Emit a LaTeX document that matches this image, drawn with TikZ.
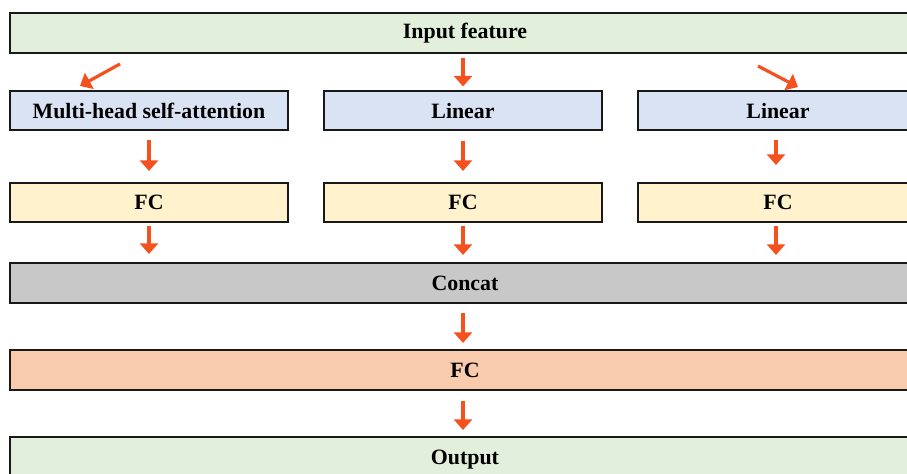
\documentclass[tikz,border=0pt]{standalone}
\usepackage{fontspec}
\setmainfont{Liberation Serif}
\usetikzlibrary{arrows.meta}
\definecolor{boxgreen}{HTML}{E2EFDA}
\definecolor{boxblue}{HTML}{DAE3F3}
\definecolor{boxyellow}{HTML}{FFF2CC}
\definecolor{boxgray}{HTML}{C8C8C8}
\definecolor{boxpink}{HTML}{F8CBAD}
\definecolor{arrowred}{HTML}{F4511E}
\tikzset{
  blk/.style={draw=black!90, line width=1.5pt, inner sep=0pt,
    font=\fontsize{16.4}{19}\selectfont\bfseries, text=black},
  wide/.style={blk, minimum width=910*0.75pt, minimum height=40*0.75pt},
  half/.style={blk, minimum width=278*0.75pt, minimum height=39*0.75pt},
  arr/.style={draw=arrowred, line width=3pt,
    -{Triangle[width=13.5pt,length=8pt]}, arrowred},
}
\begin{document}
\begin{tikzpicture}[x=0.75pt,y=-0.75pt]
  \useasboundingbox (0,0) rectangle (907,474);
  \clip (0,0) rectangle (907,474);

  % boxes
  \node[wide, fill=boxgreen] (inp) at (465,33) {Input feature};
  \node[half, fill=boxblue] (mha) at (149,111) {Multi-head self-attention};
  \node[half, fill=boxblue] (lin1) at (463,111) {Linear};
  \node[half, fill=boxblue, minimum width=280*0.75pt] (lin2) at (778,111) {Linear};
  \node[half, fill=boxyellow] (fc1) at (149,202.5) {FC};
  \node[half, fill=boxyellow] (fc2) at (463,202.5) {FC};
  \node[half, fill=boxyellow, minimum width=280*0.75pt] (fc3) at (778,202.5) {FC};
  \node[wide, fill=boxgray] (cat) at (465,283) {Concat};
  \node[wide, fill=boxpink] (fc4) at (465,370) {FC};
  \node[wide, fill=boxgreen, minimum height=46*0.75pt] (out) at (465,460) {Output};

  % slanted arrow ends
  \coordinate (dls) at (120,64);
  \coordinate (dle) at (80,86);
  \coordinate (drs) at (758,66);
  \coordinate (dre) at (798,87);

  % arrows
  \draw[arr, line width=2.4pt] (dls) -- (dle);
  \draw[arr, shorten <=4*0.75pt, shorten >=4*0.75pt] (inp.south -| lin1.north) -- (lin1.north);
  \draw[arr, line width=2.4pt] (drs) -- (dre);

  \draw[arr, shorten <=9*0.75pt, shorten >=11*0.75pt] (mha.south) -- (fc1.north);
  \draw[arr, shorten <=10*0.75pt, shorten >=11*0.75pt] (lin1.south) -- (fc2.north);
  \draw[arr, shorten <=9*0.75pt, shorten >=17*0.75pt] ([xshift=-2*0.75pt]lin2.south) -- ([xshift=-2*0.75pt]fc3.north);

  \draw[arr, shorten <=3*0.75pt, shorten >=8*0.75pt] (fc1.south) -- (fc1.south |- cat.north);
  \draw[arr, shorten <=3*0.75pt, shorten >=7*0.75pt] (fc2.south) -- (fc2.south |- cat.north);
  \draw[arr, shorten <=3*0.75pt, shorten >=7*0.75pt] ([xshift=-2*0.75pt]fc3.south) -- ([xshift=-2*0.75pt]fc3.south |- cat.north);

  \draw[arr, shorten <=9*0.75pt, shorten >=6*0.75pt] (cat.south -| fc2.south) -- (fc4.north -| fc2.south);
  \draw[arr, shorten <=10*0.75pt, shorten >=6*0.75pt] (fc4.south -| fc2.south) -- (out.north -| fc2.south);
\end{tikzpicture}
\end{document}
